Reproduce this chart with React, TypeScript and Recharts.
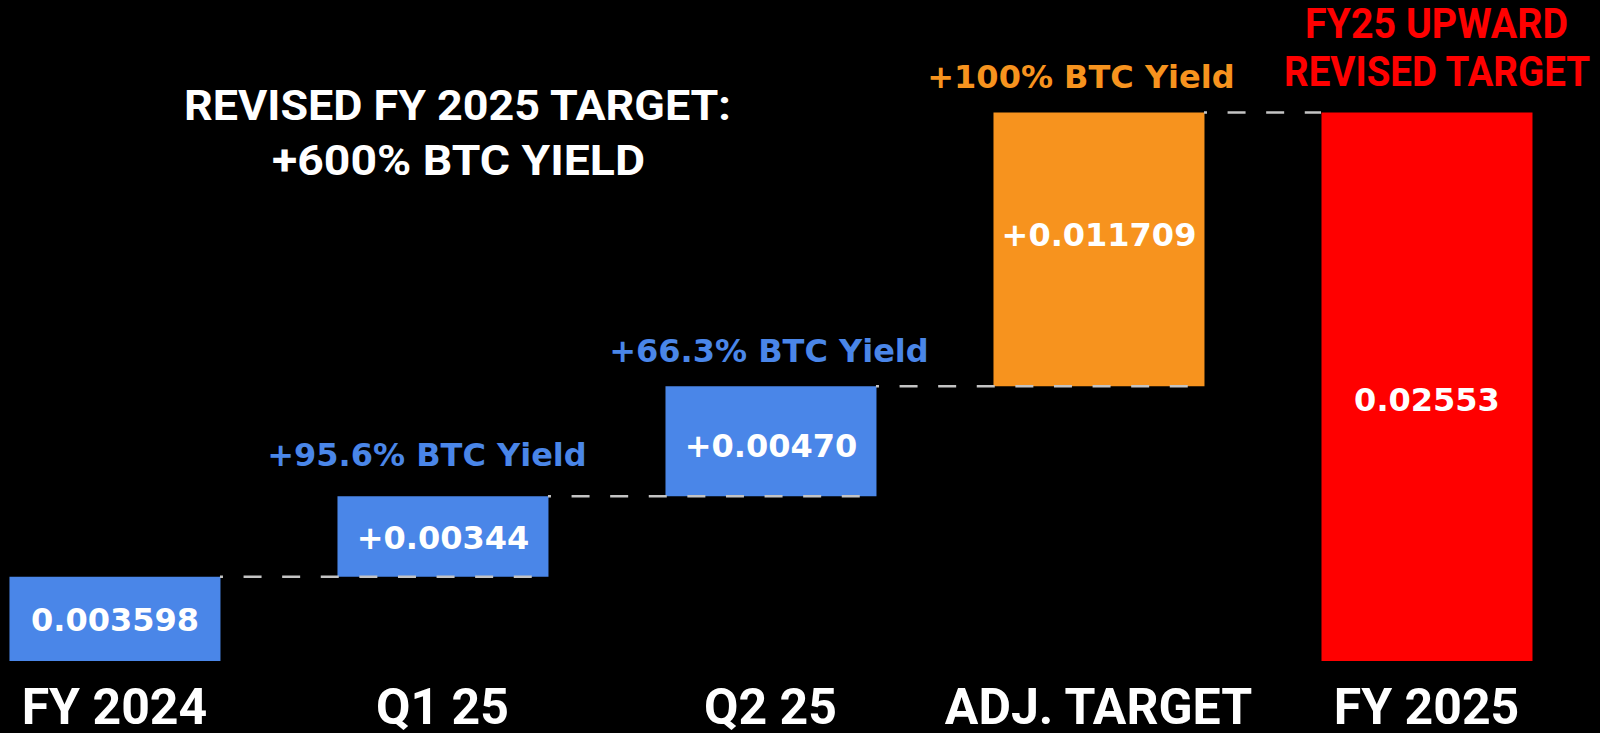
import { BarChart, Bar, XAxis, YAxis, Cell, LabelList, ReferenceLine } from 'recharts'

// waterfall: FY24 base, then quarterly adds, then the revised target
const categories = ['FY 2024', 'Q1 25', 'Q2 25', 'ADJ. TARGET', 'FY 2025']
const steps = [0.003598, 0.00344, 0.0047, 0.011709]
const valueLabels = ['0.003598', '+0.00344', '+0.00470', '+0.011709', '0.02553']
const yieldLabels = ['', '+95.6% BTC Yield', '+66.3% BTC Yield', '+100% BTC Yield', '']
const barColors = ['#4a86e8', '#4a86e8', '#4a86e8', '#f7931e', '#ff0000']

// label nudges, px
const valueDy = [0, 0, 4, -15, 12]
const yieldDx = [0, -16, -2, -18, 0]
const yieldDy = [0, -30, -24, -24, 0]

const BAR_PX = 211
const HALF = 0.3216 // half bar width in x units

const tops: number[] = []
steps.reduce((acc, s) => {
  tops.push(acc + s)
  return acc + s
}, 0)
const total = tops[tops.length - 1]

const data = categories.map((name, i) => ({
  idx: i,
  name,
  base: i < steps.length ? tops[i] - steps[i] : 0,
  delta: i < steps.length ? steps[i] : total,
}))

const WHITE = '#ffffff'

function AxisTick(props: any) {
  const { x, y, payload } = props
  return (
    <text x={x} y={y + 63} textAnchor="middle" fill={WHITE}
      fontFamily="Roboto" fontWeight={700} fontSize={50}>
      {categories[payload.value]}
    </text>
  )
}

function ValueLabel(props: any) {
  const { x, y, width, height, index } = props
  return (
    <text x={x + width / 2} y={y + height / 2 + 12 + valueDy[index]} textAnchor="middle"
      fill={WHITE} fontFamily="DejaVu Sans" fontWeight={700} fontSize={32}>
      {valueLabels[index]}
    </text>
  )
}

function YieldLabel(props: any) {
  const { x, y, width, index } = props
  if (!yieldLabels[index]) return null
  return (
    <text x={x + width / 2 + yieldDx[index]} y={y + yieldDy[index]} textAnchor="middle"
      fill={barColors[index]} fontFamily="DejaVu Sans" fontWeight={700} fontSize={32}>
      {yieldLabels[index]}
    </text>
  )
}

export default function App() {
  return (
    <div style={{ position: 'absolute', left: 0, top: 0, width: 1600, height: 733, background: '#000' }}>
      <BarChart width={1600} height={733} data={data}
        margin={{ top: 0, right: 0, left: 0, bottom: 0 }}>
        <XAxis dataKey="idx" type="number" domain={[-0.349, 4.529]} allowDataOverflow
          ticks={[0, 1, 2, 3, 4]} axisLine={false} tickLine={false} tickSize={0} tickMargin={0}
          height={72} tick={<AxisTick />} interval={0} />
        <YAxis hide width={0} domain={[0, 0.02825]} allowDataOverflow />
        {tops.map((t, i) => (
          <ReferenceLine key={i} ifOverflow="visible"
            segment={[{ x: i + HALF, y: t }, { x: i < steps.length - 1 ? i + 1 + HALF : i + 1 - HALF, y: t }]}
            stroke="#c4c4c4" strokeWidth={2.5} strokeDasharray="18 20.6" strokeDashoffset={15} />
        ))}
        <Bar dataKey="base" stackId="w" fill="transparent" barSize={BAR_PX} isAnimationActive={false} />
        <Bar dataKey="delta" stackId="w" barSize={BAR_PX} isAnimationActive={false}>
          {data.map((d, i) => <Cell key={d.name} fill={barColors[i]} />)}
          <LabelList dataKey="delta" content={<ValueLabel />} />
          <LabelList dataKey="delta" content={<YieldLabel />} />
        </Bar>
      </BarChart>
      <svg width={1600} height={733} style={{ position: 'absolute', left: 0, top: 0, pointerEvents: 'none' }}>
        <text x={457.5} y={120} textAnchor="middle" fill={WHITE} fontFamily="Roboto" fontWeight={700}
          fontSize={42} textLength={547} lengthAdjust="spacingAndGlyphs">REVISED FY 2025 TARGET:</text>
        <text x={458.5} y={175} textAnchor="middle" fill={WHITE} fontFamily="Roboto" fontWeight={700}
          fontSize={42} textLength={373} lengthAdjust="spacingAndGlyphs">+600% BTC YIELD</text>
        <text x={1436.5} y={38} textAnchor="middle" fill="#ff0000" fontFamily="Roboto" fontWeight={700}
          fontSize={42} textLength={263} lengthAdjust="spacingAndGlyphs">FY25 UPWARD</text>
        <text x={1437} y={86} textAnchor="middle" fill="#ff0000" fontFamily="Roboto" fontWeight={700}
          fontSize={42} textLength={306} lengthAdjust="spacingAndGlyphs">REVISED TARGET</text>
      </svg>
    </div>
  )
}
